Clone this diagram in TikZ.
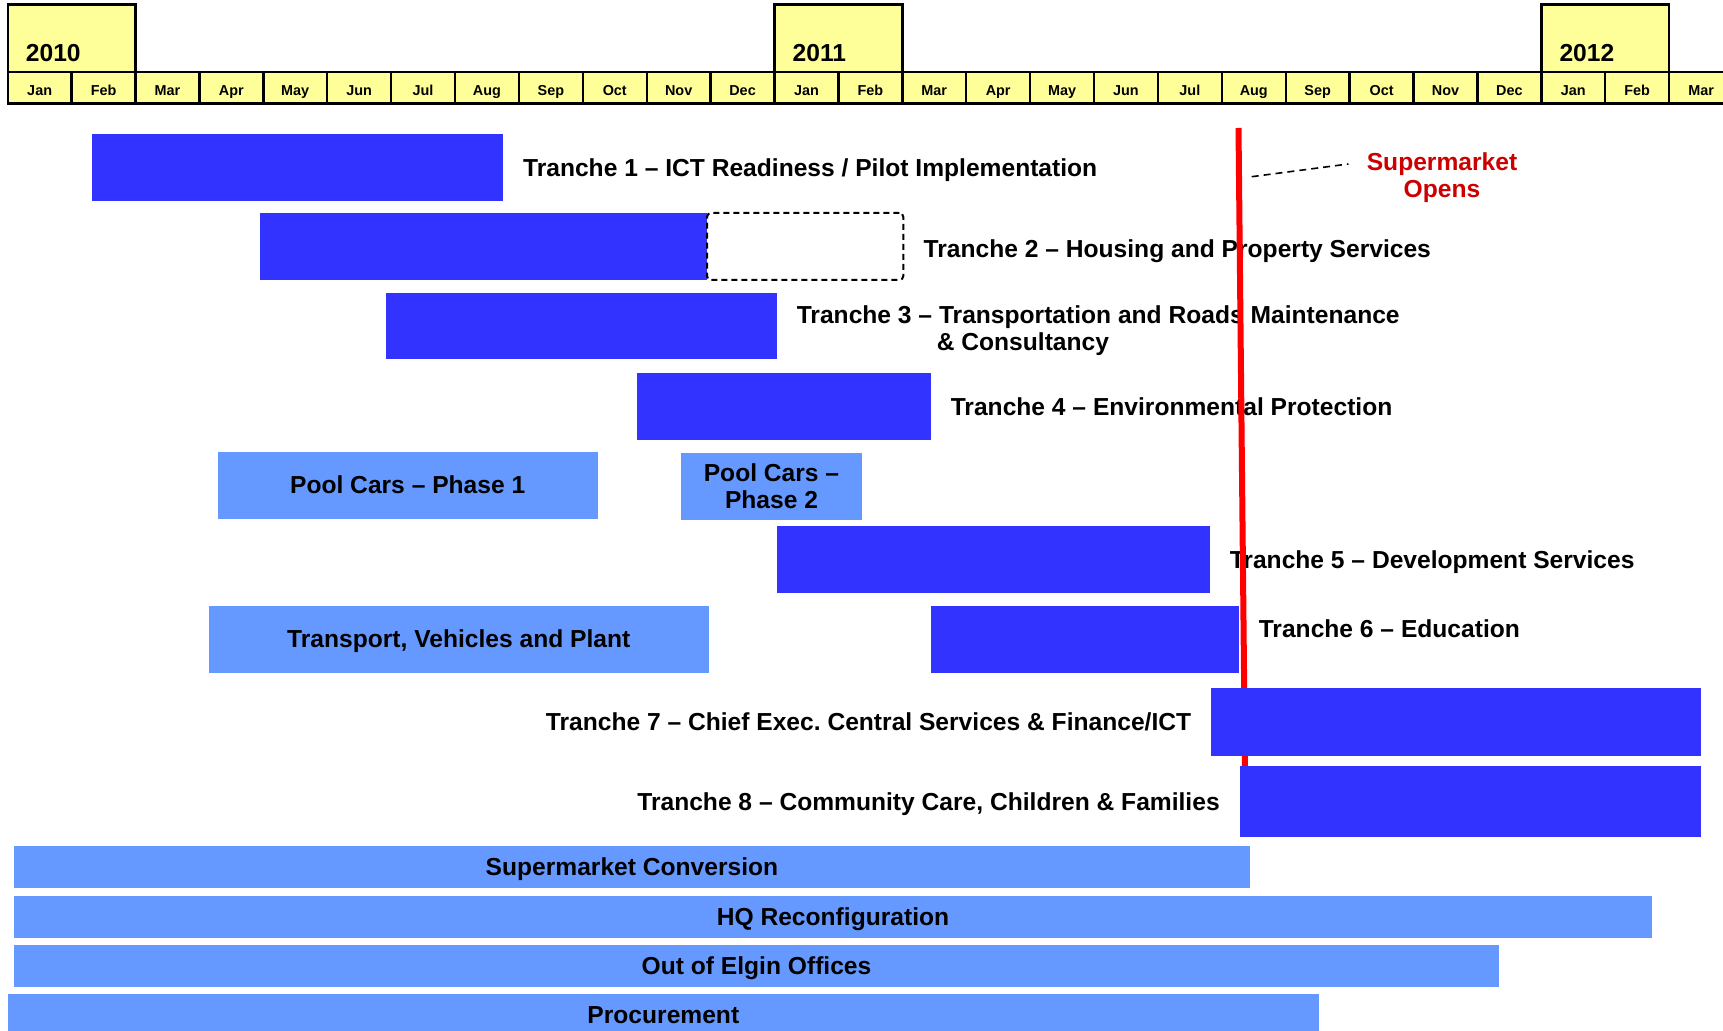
\documentclass[tikz,border=0pt]{standalone}
\usepackage{fontspec}
\setmainfont{Liberation Sans}
\usetikzlibrary{positioning,fit}
\definecolor{trancheblue}{RGB}{51,51,255}
\definecolor{poolblue}{RGB}{102,153,255}
\definecolor{monthyellow}{RGB}{255,255,153}
\definecolor{opensred}{RGB}{204,0,0}

\begin{document}
\begin{tikzpicture}[x=0.5pt,y=-0.5pt,node distance=9.5pt,
                    font=\bfseries\fontsize{12.3}{13.5}\selectfont]
  % styles
  \tikzstyle{yearbox}=[draw,line width=1.2pt,fill=monthyellow,inner sep=0pt]
  \tikzstyle{monthcell}=[draw,line width=1.2pt,fill=monthyellow,inner sep=0pt,
                         minimum width=31.95pt,minimum height=15.7pt,
                         text height=7.6pt,text depth=0pt,
                         font=\bfseries\fontsize{7.2}{8}\selectfont]
  \tikzstyle{tranche}=[fill=trancheblue,inner sep=0pt]
  \tikzstyle{poolbar}=[fill=poolblue,inner sep=0pt]
  \tikzstyle{lbl}=[inner sep=0pt,text height=8.8pt,text depth=0pt]
  \tikzstyle{lbltwo}=[inner sep=0pt,align=left]

  \useasboundingbox (0,0) rectangle (1723,1031);

  % year boxes
  \node[yearbox,fit={(7.7,4.7) (135.5,72.3)}]     (y2010) {};
  \node[yearbox,fit={(774.5,4.7) (902.3,72.3)}]   (y2011) {};
  \node[yearbox,fit={(1541.3,4.7) (1669.1,72.3)}] (y2012) {};
  \node[lbltwo,anchor=base west] (l2010) at ([xshift=9.5pt,yshift=5.8pt]y2010.south west) {2010};
  \node[lbltwo,anchor=base west] (l2011) at ([xshift=9.5pt,yshift=5.8pt]y2011.south west) {2011};
  \node[lbltwo,anchor=base west] (l2012) at ([xshift=9.5pt,yshift=5.8pt]y2012.south west) {2012};

  % month row
  \foreach \m [count=\i from 0] in {Jan,Feb,Mar,Apr,May,Jun,Jul,Aug,Sep,Oct,Nov,Dec,
                                    Jan,Feb,Mar,Apr,May,Jun,Jul,Aug,Sep,Oct,Nov,Dec,
                                    Jan,Feb,Mar}
    \node[monthcell] (m\i) at ({39.65+63.9*\i},88) {\m};

  % tranches
  \node[tranche,fit={(92.3,134) (503.3,201)}] (t1) {};
  \node[lbl,right=of t1] (t1l) {Tranche 1 \textendash{} ICT Readiness / Pilot Implementation};

  \node[tranche,fit={(260.4,213) (707,280)}] (t2) {};
  \node[draw,dashed,line width=1pt,dash pattern=on 3pt off 2pt,rounded corners=2pt,
        inner sep=0pt,fit={(707,213) (903.3,280)}] (t2x) {};
  \node[lbl,right=of t2x,yshift=-1pt] (t2l) {Tranche 2 \textendash{} Housing and Property Services};

  \node[tranche,fit={(385.7,293.4) (777,359)}] (t3) {};
  \node[lbltwo,right=of t3,yshift=-2.2pt] (t3l) {Tranche 3 \textendash{} Transportation and Roads Maintenance\\
                                \hspace*{70pt}\& Consultancy};

  \node[tranche,fit={(637.4,373) (931,440)}] (t4) {};
  \node[lbl,right=of t4] (t4l) {Tranche 4 \textendash{} Environmental Protection};

  % pool cars and transport
  \node[poolbar,fit={(217.6,451.6) (597.8,518.7)}] (pool1) {};
  \node[lbl] (pool1l) at (pool1) {Pool Cars \textendash{} Phase 1};
  \node[poolbar,fit={(681.3,453) (861.7,520)}] (pool2) {};
  \node[lbltwo,align=center] (pool2l) at (pool2) {Pool Cars \textendash\\Phase 2};

  \node[tranche,fit={(777,526.4) (1210,593.4)}] (t5) {};
  \node[lbl,right=of t5] (t5l) {Tranche 5 \textendash{} Development Services};

  \node[poolbar,fit={(208.8,605.5) (708.8,672.8)}] (tvp) {};
  \node[lbl] (tvpl) at (tvp) {Transport, Vehicles and Plant};
  \node[tranche,fit={(931,605.5) (1239,672.8)}] (t6) {};
  \node[lbl,right=of t6,yshift=5.2pt] (t6l) {Tranche 6 \textendash{} Education};

  % supermarket opening
  \coordinate (redtop) at (1238.5,128);
  \coordinate (redbot) at (1245,770);
  \draw[red,line width=3pt] (redtop) -- (redbot);

  \node[tranche,fit={(1211,688) (1701,755.7)}] (t7) {};
  \node[lbl,left=of t7] (t7l) {Tranche 7 \textendash{} Chief Exec.\ Central Services \& Finance/ICT};

  \node[tranche,fit={(1239.5,766) (1701,836.7)}] (t8) {};
  \node[lbl,left=of t8] (t8l) {Tranche 8 \textendash{} Community Care, Children \& Families};

  \node[align=center,inner sep=0pt,text=opensred] (opens) at (1442,178) {Supermarket\\Opens};
  \coordinate (openmark) at (1251.7,176.7);
  \draw[dashed,line width=0.8pt,dash pattern=on 3.5pt off 2.5pt]
       (openmark) -- ([xshift=-9pt,yshift=7pt]opens.west);

  % programme wide bars
  \node[poolbar,fit={(14,846) (1250,887.7)}]   (smc)   {};
  \node[poolbar,fit={(14,896) (1652,937.7)}]   (hq)    {};
  \node[poolbar,fit={(14,945) (1499,986.7)}]   (elgin) {};
  \node[poolbar,fit={(7.7,994) (1319,1035.7)}] (proc)  {};
  \node[lbl] (smcl)   at (smc)   {Supermarket Conversion};
  \node[lbl] (hql)    at (hq)    {HQ Reconfiguration};
  \node[lbl] (elginl) at (elgin) {Out of Elgin Offices};
  \node[lbl] (procl)  at (proc)  {Procurement};
\end{tikzpicture}
\end{document}
